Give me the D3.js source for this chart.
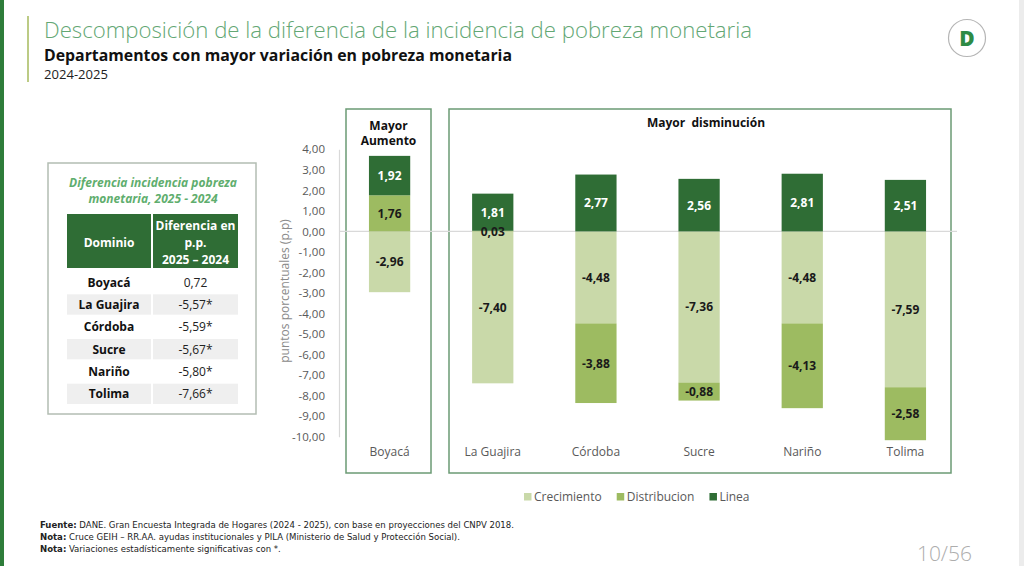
<!DOCTYPE html>
<html><head><meta charset="utf-8">
<script src="https://cdn.jsdelivr.net/npm/d3@7"></script>
<style>
html,body{margin:0;padding:0;background:#fff;}
svg{display:block;}
</style></head>
<body>
<svg id="c" width="1024" height="566"></svg>
<script>
// ---- data ----
const categories = ["Boyacá","La Guajira","Córdoba","Sucre","Nariño","Tolima"];
const crecimiento = [-2.96,-7.40,-4.48,-7.36,-4.48,-7.59];
const distribucion = [1.76,0.03,-3.88,-0.88,-4.13,-2.58];
const linea = [1.92,1.81,2.77,2.56,2.81,2.51];
const seriesNames = ["Crecimiento","Distribucion","Linea"];
const yTickValues = [4,3,2,1,0,-1,-2,-3,-4,-5,-6,-7,-8,-9,-10];
const tableDomains = ["Boyacá","La Guajira","Córdoba","Sucre","Nariño","Tolima"];
const tableDiffs = [0.72,-5.57,-5.59,-5.67,-5.80,-7.66];
const tableSignificant = [false,true,true,true,true,true];
const groupTitles = [["Mayor","Aumento"],["Mayor  disminución"]];
const footerLines = [
  ["Fuente:"," DANE. Gran Encuesta Integrada de Hogares (2024 - 2025), con base en proyecciones del CNPV 2018."],
  ["Nota:"," Cruce GEIH – RR.AA. ayudas institucionales y PILA (Ministerio de Salud y Protección Social)."],
  ["Nota:"," Variaciones estadísticamente significativas con *."]
];

// ---- setup ----
const svg = d3.select("#c");
const loc = d3.formatLocale({decimal:",",thousands:".",grouping:[3],currency:["$",""],minus:"-"});
const f2 = loc.format(".2f");
const colors = d3.scaleOrdinal().domain(seriesNames).range(["#c9d9a9","#9dbb61","#2f6d35"]);
const FONT = "'Open Sans', 'Noto Sans', sans-serif";

// page frame
svg.append("rect").attr("x",0).attr("y",0).attr("width",4).attr("height",566).attr("fill","#2e7d3a");
svg.append("rect").attr("x",1019).attr("y",0).attr("width",5).attr("height",566).attr("fill","#ececec");
svg.append("line").attr("x1",28).attr("x2",28).attr("y1",16).attr("y2",82).attr("stroke","#bccb85").attr("stroke-width",2);

// titles
svg.append("text").attr("x",44).attr("y",37.5).attr("font-family",FONT).attr("font-weight",300)
  .attr("font-size",21.5).attr("fill","#63a774").attr("textLength",708).attr("lengthAdjust","spacingAndGlyphs")
  .text("Descomposición de la diferencia de la incidencia de pobreza monetaria");
svg.append("text").attr("x",44).attr("y",61).attr("font-family",FONT).attr("font-weight",700)
  .attr("font-size",15.5).attr("fill","#111").attr("textLength",468).attr("lengthAdjust","spacingAndGlyphs")
  .text("Departamentos con mayor variación en pobreza monetaria");
svg.append("text").attr("x",44).attr("y",78.5).attr("font-family",FONT)
  .attr("font-size",12).attr("fill","#222").attr("textLength",64).attr("lengthAdjust","spacingAndGlyphs")
  .text("2024-2025");

// logo
svg.append("circle").attr("cx",967).attr("cy",38).attr("r",18.5).attr("fill","#fff").attr("stroke","#b5b5b5").attr("stroke-width",1.2);
svg.append("text").attr("x",967).attr("y",45.5).attr("text-anchor","middle").attr("font-family",FONT)
  .attr("font-weight",800).attr("font-size",21).attr("fill","#2e8b45").text("D");

// ---- table ----
const tbl = svg.append("g");
tbl.append("rect").attr("x",48).attr("y",163).attr("width",208).attr("height",251)
  .attr("fill","#fff").attr("stroke","#b3bdb3").attr("stroke-width",1.5);
tbl.selectAll("text.tt").data(["Diferencia incidencia pobreza","monetaria, 2025 - 2024"]).join("text")
  .attr("x",153).attr("y",(d,i)=>187+i*15.5).attr("text-anchor","middle").attr("font-family",FONT)
  .attr("font-weight",700).attr("font-style","italic").attr("font-size",12).attr("fill","#5fae6e").text(d=>d);
tbl.append("rect").attr("x",67).attr("y",214).attr("width",84).attr("height",54).attr("fill","#2f6d35");
tbl.append("rect").attr("x",153).attr("y",214).attr("width",85).attr("height",54).attr("fill","#2f6d35");
tbl.append("text").attr("x",109).attr("y",247).attr("text-anchor","middle").attr("font-family",FONT)
  .attr("font-weight",700).attr("font-size",12).attr("fill","#fff").text("Dominio");
tbl.selectAll("text.h2").data(["Diferencia en","p.p.","2025 – 2024"]).join("text")
  .attr("x",195.5).attr("y",(d,i)=>229.5+i*17).attr("text-anchor","middle").attr("font-family",FONT)
  .attr("font-weight",700).attr("font-size",12).attr("fill","#fff").text(d=>d);
const rowY = d3.scaleBand().domain(tableDomains).range([272,404]).paddingInner(0.09);
tableDomains.forEach((d,i)=>{
  if(i%2===1){
    tbl.append("rect").attr("x",67).attr("y",rowY(d)).attr("width",84).attr("height",rowY.bandwidth()).attr("fill","#efefef");
    tbl.append("rect").attr("x",153).attr("y",rowY(d)).attr("width",85).attr("height",rowY.bandwidth()).attr("fill","#efefef");
  }
  const cy = rowY(d)+rowY.bandwidth()/2+4.5;
  tbl.append("text").attr("x",109).attr("y",cy).attr("text-anchor","middle").attr("font-family",FONT)
    .attr("font-weight",700).attr("font-size",12).attr("fill","#111").text(d);
  tbl.append("text").attr("x",195.5).attr("y",cy).attr("text-anchor","middle").attr("font-family",FONT)
    .attr("font-size",12).attr("fill","#222").text(f2(tableDiffs[i])+(tableSignificant[i]?"*":""));
});

// ---- chart ----
const x = d3.scaleBand().domain(categories).range([338,957]).paddingInner(0.6).paddingOuter(0.3);
const y = d3.scaleLinear().domain([-10,4]).range([436.7,149.3]);

// group boxes
svg.append("rect").attr("x",346).attr("y",109).attr("width",85).attr("height",364)
  .attr("fill","none").attr("stroke","#6b9a74").attr("stroke-width",1.5);
svg.append("rect").attr("x",449).attr("y",109).attr("width",502).attr("height",364)
  .attr("fill","none").attr("stroke","#6b9a74").attr("stroke-width",1.5);
svg.selectAll("text.g1").data(groupTitles[0]).join("text")
  .attr("x",388.5).attr("y",(d,i)=>130+i*15).attr("text-anchor","middle").attr("font-family",FONT)
  .attr("font-weight",700).attr("font-size",12).attr("fill","#111").text(d=>d);
svg.append("text").attr("x",706).attr("y",127).attr("text-anchor","middle").attr("font-family",FONT)
  .attr("font-weight",700).attr("font-size",12).attr("fill","#111").attr("xml:space","preserve").text(groupTitles[1][0]);

// zero line
svg.append("line").attr("x1",339).attr("x2",957).attr("y1",y(0)).attr("y2",y(0)).attr("stroke","#d9d9d9").attr("stroke-width",1.2);

// y axis
const yAxis = svg.append("g").attr("transform","translate(339,0)")
  .call(d3.axisLeft(y).tickValues(yTickValues).tickSize(0).tickPadding(14).tickFormat(f2));
yAxis.select(".domain").attr("stroke","#d9d9d9").attr("stroke-width",1.2);
yAxis.selectAll("text").attr("font-family",FONT).attr("font-size",11.5).attr("fill","#595959");
svg.append("text").attr("transform","translate(289,291) rotate(-90)").attr("text-anchor","middle")
  .attr("font-family",FONT).attr("font-size",12).attr("fill","#8a8a8a").text("puntos porcentuales (p.p)");

// x axis
const xAxis = svg.append("g").attr("transform","translate(0,447)")
  .call(d3.axisBottom(x).tickSize(0).tickPadding(0));
xAxis.select(".domain").remove();
xAxis.selectAll("text").attr("font-family",FONT).attr("font-size",12).attr("fill","#595959");

// stacked bars
const rows = categories.map((c,i)=>({cat:c,Crecimiento:crecimiento[i],Distribucion:distribucion[i],Linea:linea[i]}));
const stack = d3.stack().keys(seriesNames).offset(d3.stackOffsetDiverging)(rows);
const layers = svg.append("g").selectAll("g").data(stack).join("g").attr("fill",d=>colors(d.key));
layers.selectAll("rect").data(d=>d).join("rect")
  .attr("x",d=>x(d.data.cat)).attr("width",x.bandwidth())
  .attr("y",d=>y(Math.max(d[0],d[1]))).attr("height",d=>Math.abs(y(d[0])-y(d[1])));
const lab = svg.append("g").selectAll("g").data(stack).join("g");
lab.selectAll("text").data(d=>d.map(v=>({v,key:d.key}))).join("text")
  .attr("x",d=>x(d.v.data.cat)+x.bandwidth()/2).attr("y",d=>y((d.v[0]+d.v[1])/2)+4.5)
  .attr("text-anchor","middle").attr("font-family",FONT).attr("font-weight",700).attr("font-size",12)
  .attr("fill",d=>d.key==="Linea"?"#fff":"#1a1a1a").text(d=>f2(d.v.data[d.key]));

// legend
let lx = 524;
seriesNames.forEach(s=>{
  svg.append("rect").attr("x",lx).attr("y",493).attr("width",7.5).attr("height",7.5).attr("fill",colors(s));
  const t = svg.append("text").attr("x",lx+10).attr("y",501).attr("font-family",FONT).attr("font-size",12)
    .attr("fill","#595959").text(s);
  lx += 10 + t.node().getComputedTextLength() + 15;
});

// footer
footerLines.forEach((l,i)=>{
  const t = svg.append("text").attr("x",40).attr("y",528+i*12).attr("font-family","'Liberation Sans Narrow','DejaVu Sans Condensed',sans-serif")
    .attr("font-size",9.5).attr("fill","#222");
  t.append("tspan").attr("font-weight",700).text(l[0]);
  t.append("tspan").text(l[1]);
});
svg.append("text").attr("x",972).attr("y",561).attr("text-anchor","end").attr("font-family",FONT).attr("font-weight",300)
  .attr("font-size",21).attr("fill","#adadad").text("10/56");
</script>
</body></html>
